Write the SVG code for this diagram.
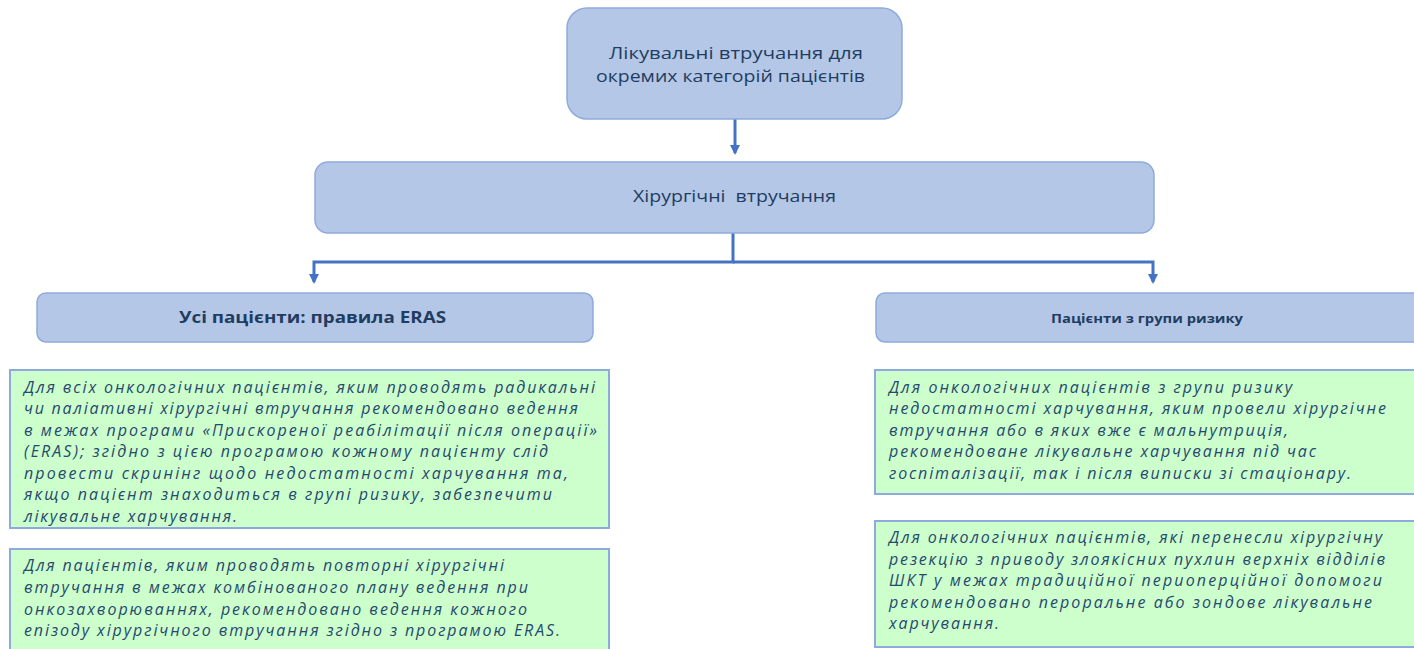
<svg xmlns="http://www.w3.org/2000/svg" width="1414" height="649" viewBox="0 0 1414 649">
<defs>
<marker id="arr" markerWidth="11" markerHeight="11" refX="8" refY="5.5" orient="auto" markerUnits="userSpaceOnUse">
<path d="M0,0.5 L10,5.5 L0,10.5 Z" fill="#4472C4"/>
</marker>
<style>
.blue{fill:#B4C7E7;stroke:#8FAADC;stroke-width:1.5}
.green{fill:#CCFFCC;stroke:#8EA9DB;stroke-width:2}
.t{font-family:"Open Sans","Noto Sans","DejaVu Sans",sans-serif;fill:#1F3D60;white-space:pre}
.reg{font-size:17px}
.hb{font-weight:bold}
.body{font-size:16px;font-style:italic;font-weight:500;fill:#27496E}
.conn{fill:none;stroke:#4472C4;stroke-width:3}
</style>
</defs>
<rect width="1414" height="649" fill="#FFFFFF"/>
<g id="connectors">
<line class="conn" x1="735" y1="119" x2="735" y2="153" marker-end="url(#arr)"/>
<polyline class="conn" points="733,233 733,262 314,262 314,282" marker-end="url(#arr)"/>
<polyline class="conn" points="733,262 1153,262 1153,282" marker-end="url(#arr)"/>
</g>
<g id="node-top">
<rect class="blue" x="567" y="8" width="335" height="111" rx="20"/>
<text class="t reg" x="609" y="59" textLength="254" lengthAdjust="spacingAndGlyphs">Лікувальні втручання для</text>
<text class="t reg" x="596" y="82" textLength="269" lengthAdjust="spacingAndGlyphs">окремих категорій пацієнтів</text>
</g>
<g id="node-surgery">
<rect class="blue" x="315" y="162" width="839" height="71" rx="13"/>
<text class="t reg" x="633" y="202" textLength="203" lengthAdjust="spacingAndGlyphs">Хірургічні  втручання</text>
</g>
<g id="node-all">
<rect class="blue" x="37" y="293" width="556" height="49" rx="9"/>
<text class="t hb" font-size="16" x="179" y="323" textLength="267" lengthAdjust="spacingAndGlyphs">Усі пацієнти: правила ERAS</text>
</g>
<g id="node-risk">
<rect class="blue" x="876" y="293" width="560" height="49" rx="9"/>
<text class="t hb" font-size="13" x="1051" y="323" textLength="192" lengthAdjust="spacingAndGlyphs">Пацієнти з групи ризику</text>
</g>
<g id="node-eras-all">
<rect class="green" x="10" y="370" width="599" height="158"/>
<text class="t body" x="24" y="392.5" textLength="571" lengthAdjust="spacing">Для всіх онкологічних пацієнтів, яким проводять радикальні</text>
<text class="t body" x="24" y="414" textLength="554" lengthAdjust="spacing">чи паліативні хірургічні втручання рекомендовано ведення</text>
<text class="t body" x="24" y="435.5" textLength="573" lengthAdjust="spacing">в межах програми «Прискореної реабілітації після операції»</text>
<text class="t body" x="24" y="457" textLength="524" lengthAdjust="spacing">(ERAS); згідно з цією програмою кожному пацієнту слід</text>
<text class="t body" x="24" y="478.5" textLength="544" lengthAdjust="spacing">провести скринінг щодо недостатності харчування та,</text>
<text class="t body" x="24" y="500" textLength="528" lengthAdjust="spacing">якщо пацієнт знаходиться в групі ризику, забезпечити</text>
<text class="t body" x="24" y="521.5" textLength="213" lengthAdjust="spacing">лікувальне харчування.</text>
</g>
<g id="node-eras-repeat">
<rect class="green" x="10" y="549" width="599" height="110"/>
<text class="t body" x="24" y="571" textLength="480" lengthAdjust="spacing">Для пацієнтів, яким проводять повторні хірургічні</text>
<text class="t body" x="24" y="593" textLength="504" lengthAdjust="spacing">втручання в межах комбінованого плану ведення при</text>
<text class="t body" x="24" y="614.5" textLength="503" lengthAdjust="spacing">онкозахворюваннях, рекомендовано ведення кожного</text>
<text class="t body" x="24" y="636" textLength="536" lengthAdjust="spacing">епізоду хірургічного втручання згідно з програмою ERAS.</text>
</g>
<g id="node-risk-malnutrition">
<rect class="green" x="875" y="370" width="560" height="124"/>
<text class="t body" x="889" y="392.5" textLength="403" lengthAdjust="spacing">Для онкологічних пацієнтів з групи ризику</text>
<text class="t body" x="889" y="414" textLength="497" lengthAdjust="spacing">недостатності харчування, яким провели хірургічне</text>
<text class="t body" x="889" y="435.5" textLength="399" lengthAdjust="spacing">втручання або в яких вже є мальнутриція,</text>
<text class="t body" x="889" y="457" textLength="427" lengthAdjust="spacing">рекомендоване лікувальне харчування під час</text>
<text class="t body" x="889" y="478.5" textLength="462" lengthAdjust="spacing">госпіталізації, так і після виписки зі стаціонару.</text>
</g>
<g id="node-risk-resection">
<rect class="green" x="875" y="521" width="560" height="126"/>
<text class="t body" x="889" y="543" textLength="493" lengthAdjust="spacing">Для онкологічних пацієнтів, які перенесли хірургічну</text>
<text class="t body" x="889" y="564.5" textLength="496" lengthAdjust="spacing">резекцію з приводу злоякісних пухлин верхніх відділів</text>
<text class="t body" x="889" y="586" textLength="493" lengthAdjust="spacing">ШКТ у межах традиційної периоперційної допомоги</text>
<text class="t body" x="889" y="607.5" textLength="483" lengthAdjust="spacing">рекомендовано пероральне або зондове лікувальне</text>
<text class="t body" x="889" y="629" textLength="110" lengthAdjust="spacing">харчування.</text>
</g>
</svg>
